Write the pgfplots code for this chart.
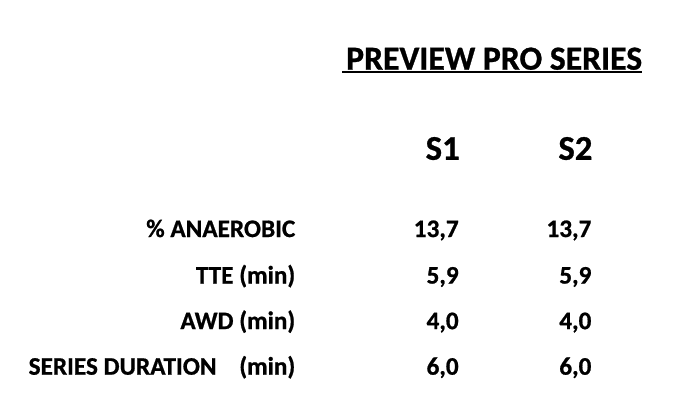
\documentclass[border=0pt]{standalone}
\usepackage{pgfplots}
\pgfplotsset{compat=1.18}
\usepackage{fontspec}
\setmainfont{Carlito}[BoldFeatures={FakeBold=0.8}]
\newcommand\ul[1]{\setbox0\hbox{#1}\rlap{\hspace{-4bp}\rule[-3.2bp]{\dimexpr\wd0+4bp\relax}{2bp}}\box0}
\begin{document}
\begin{tikzpicture}
\begin{axis}[
  width=686bp, height=416bp, scale only axis,
  xmin=0, xmax=686, ymin=0, ymax=416, y dir=reverse,
  hide axis, clip=false,
  point meta=explicit symbolic,
  nodes near coords,
  nodes near coords align={center},
]
\addplot[fill=white, draw=none, nodes near coords={}] coordinates {(0,0) (686,0) (686,416) (0,416)} -- cycle;
% title
\addplot[draw=none, mark=none, nodes near coords style={anchor=base west, inner sep=0pt, font=\fontsize{34bp}{34bp}\selectfont\bfseries}]
  coordinates {(346,67) [\ul{PREVIEW PRO SERIES}]};
% column headers
\addplot[draw=none, mark=none, nodes near coords style={anchor=base east, inner sep=0pt, font=\fontsize{35bp}{35bp}\selectfont\bfseries}]
  coordinates {(461,158) [S1] (595,158) [S2]};
% row labels
\addplot[draw=none, mark=none, nodes near coords style={anchor=base east, inner sep=0pt, font=\fontsize{25.5bp}{25.5bp}\selectfont\bfseries}]
  coordinates {
    (295,236) [\% ANAEROBIC]
    (295,283) [TTE (min)]
    (295,329) [AWD (min)]
    (295,375) [SERIES DURATION\hspace{0.9em}(min)]
  };
% S1 values
\addplot[draw=none, mark=none, nodes near coords style={anchor=base east, inner sep=0pt, font=\fontsize{25.5bp}{25.5bp}\selectfont\bfseries}]
  coordinates {
    (460,236) [{13,7}]
    (460,283) [{5,9}]
    (460,329) [{4,0}]
    (460,375) [{6,0}]
  };
% S2 values
\addplot[draw=none, mark=none, nodes near coords style={anchor=base east, inner sep=0pt, font=\fontsize{25.5bp}{25.5bp}\selectfont\bfseries}]
  coordinates {
    (594,236) [{13,7}]
    (594,283) [{5,9}]
    (594,329) [{4,0}]
    (594,375) [{6,0}]
  };
\end{axis}
\end{tikzpicture}
\end{document}
